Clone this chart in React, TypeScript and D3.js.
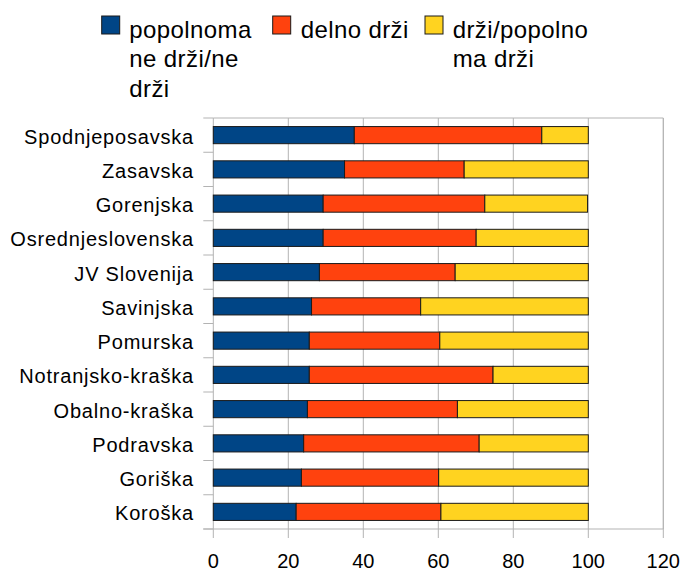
import React from 'react';
import * as d3 from 'd3';

// regions, top to bottom
const regions = [
  'Spodnjeposavska', 'Zasavska', 'Gorenjska', 'Osrednjeslovenska', 'JV Slovenija', 'Savinjska',
  'Pomurska', 'Notranjsko-kraška', 'Obalno-kraška', 'Podravska', 'Goriška', 'Koroška'
];

const neDrzi     = [37.6, 35.0, 29.3, 29.3, 28.3, 26.2, 25.6, 25.6, 25.1, 24.1, 23.5, 22.1];
const delnoDrzi  = [50.0, 31.9, 43.1, 40.8, 36.2, 29.1, 34.8, 49.0, 40.0, 46.8, 36.6, 38.6];
const drzi       = [12.4, 33.1, 27.4, 29.9, 35.5, 44.7, 39.6, 25.4, 34.9, 29.1, 39.9, 39.3];

const seriesKeys   = ['neDrzi', 'delnoDrzi', 'drzi'];
const seriesColors = ['#004586', '#ff420e', '#ffd320'];
const legendLines  = [
  ['popolnoma', 'ne drži/ne', 'drži'],
  ['delno drži'],
  ['drži/popolno', 'ma drži']
];
const xTicks = [0, 20, 40, 60, 80, 100, 120];

const W = 683, H = 572;
const left = 213.3, right = 663.3, top = 118, bottom = 529;
const grid = '#b3b3b3';
const font = "'Liberation Sans', Arial, sans-serif";

export default function App() {
  const rows = regions.map((r, i) => ({ region: r, neDrzi: neDrzi[i], delnoDrzi: delnoDrzi[i], drzi: drzi[i] }));
  const stacked = d3.stack().keys(seriesKeys)(rows);

  const x = d3.scaleLinear().domain([0, 120]).range([left, right]);
  const y = d3.scaleBand().domain(regions).range([top, bottom]).paddingInner(0.5).paddingOuter(0.25);
  const step = (bottom - top) / regions.length;
  const bounds = d3.range(regions.length + 1).map(i => top + i * step);

  const legendX   = [101.7, 272.7, 425];
  const legendTxt = [129.3, 300.7, 452.7];

  return (
    <svg width={W} height={H} style={{ position: 'absolute', left: 0, top: 0, background: '#fff' }}>
      {/* gridlines + ticks */}
      {xTicks.map(t => (
        <line key={'g' + t} x1={x(t)} x2={x(t)} y1={top} y2={bottom + 9} stroke={grid} strokeWidth={1} />
      ))}
      {bounds.map((b, i) => (
        <line key={'t' + i} x1={left - 10} x2={left} y1={b} y2={b} stroke={grid} strokeWidth={1} />
      ))}
      <line x1={left} x2={right} y1={top} y2={top} stroke={grid} />
      <line x1={left - 10} x2={right} y1={bottom} y2={bottom} stroke={grid} />
      <line x1={right} x2={right} y1={top} y2={bottom} stroke={grid} />

      {/* bars */}
      {stacked.map((s, si) => (
        <g key={s.key} fill={seriesColors[si]} stroke="#1a1a1a" strokeWidth={1}>
          {s.map((d, i) => (
            <rect key={i} x={x(d[0])} y={y(regions[i])} width={x(d[1]) - x(d[0])} height={y.bandwidth()} />
          ))}
        </g>
      ))}

      {/* category labels */}
      {regions.map(r => (
        <text key={r} x={194} y={y(r) + y.bandwidth() / 2 + 8.5} textAnchor="end"
          fontFamily={font} fontSize={20} letterSpacing={0.8} fill="#000">{r}</text>
      ))}

      {/* x tick labels */}
      {xTicks.map(t => (
        <text key={'l' + t} x={x(t)} y={568} textAnchor="middle" fontFamily={font} fontSize={20} fill="#000">{t}</text>
      ))}

      {/* legend */}
      {legendLines.map((lines, i) => (
        <g key={'lg' + i}>
          <rect x={legendX[i]} y={16} width={18} height={18} fill={seriesColors[i]} stroke="#1a1a1a" strokeWidth={1} />
          {lines.map((ln, j) => (
            <text key={j} x={legendTxt[i]} y={37.5 + j * 29.5} fontFamily={font} fontSize={24} letterSpacing={0.4} fill="#000">{ln}</text>
          ))}
        </g>
      ))}
    </svg>
  );
}
